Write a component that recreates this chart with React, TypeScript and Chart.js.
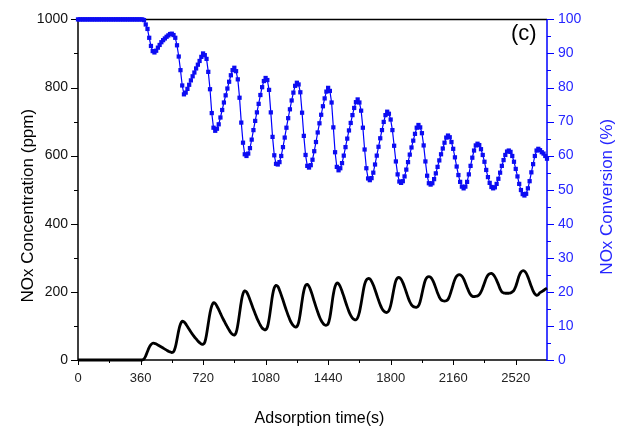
import React, { useEffect, useRef } from "react";
import { Chart, registerables } from "chart.js";

Chart.register(...registerables);

const SAMPLE_STEP_S = 10;

// NOx conversion (%) sampled every 10 s, 0 .. 2700 s (blue, right axis)
const conversionPct = [
  100, 100, 100, 100, 100, 100, 100, 100, 100, 100,
  100, 100, 100, 100, 100, 100, 100, 100, 100, 100,
  100, 100, 100, 100, 100, 100, 100, 100, 100, 100,
  100, 100, 100, 100, 100, 100, 100, 100, 99.8, 98.5,
  97.2, 94.6, 92.2, 90.7, 90.3, 90.8, 91.7, 92.5, 93.3, 93.9,
  94.4, 94.9, 95.3, 95.7, 95.8, 95.4, 94.6, 92.4, 89.1, 85.1,
  80.6, 78.0, 78.5, 79.6, 80.8, 82.1, 83.3, 84.4, 85.6, 86.7,
  87.8, 89.0, 90.0, 89.5, 88.4, 84.6, 79.5, 72.5, 68.2, 67.3,
  67.9, 69.2, 71.2, 73.4, 75.6, 77.7, 79.7, 81.7, 83.6, 85.1,
  85.8, 84.8, 82.4, 77.0, 69.7, 63.8, 60.4, 59.9, 60.6, 62.2,
  64.7, 67.5, 70.2, 72.7, 75.2, 77.8, 80.1, 81.9, 82.8, 82.2,
  79.3, 72.7, 65.5, 60.1, 57.6, 57.4, 58.1, 59.9, 62.5, 65.3,
  68.2, 71.0, 73.6, 76.2, 78.5, 80.5, 81.4, 80.9, 78.6, 72.6,
  65.8, 60.2, 57.0, 56.5, 57.2, 58.8, 61.3, 64.0, 66.8, 69.5,
  72.0, 74.5, 76.8, 78.8, 79.9, 79.0, 75.6, 68.3, 61.0, 56.7,
  55.7, 56.3, 57.8, 60.0, 62.5, 65.0, 67.4, 69.6, 71.9, 74.0,
  75.7, 76.5, 75.6, 73.2, 68.2, 61.8, 56.3, 53.3, 52.8, 53.4,
  55.0, 57.4, 60.0, 62.6, 65.1, 67.5, 69.9, 71.9, 72.9, 72.3,
  70.6, 67.5, 62.9, 58.3, 54.5, 52.4, 52.0, 52.5, 53.9, 55.9,
  58.1, 60.3, 62.4, 64.4, 66.4, 68.2, 69.0, 68.3, 66.6, 63.0,
  58.3, 54.1, 51.9, 51.5, 51.9, 53.1, 54.8, 56.7, 58.6, 60.4,
  62.1, 63.8, 65.3, 65.9, 65.4, 64.0, 62.0, 59.5, 56.8, 54.3,
  52.3, 50.9, 50.4, 50.9, 52.3, 54.5, 57.0, 59.4, 61.5, 63.0,
  63.5, 63.1, 61.9, 60.2, 58.2, 55.8, 53.7, 52.0, 50.8, 50.4,
  50.7, 51.7, 53.2, 55.0, 57.0, 58.7, 60.2, 61.2, 61.5, 61.1,
  59.9, 58.2, 56.1, 53.9, 51.7, 49.9, 48.7, 48.3, 48.8, 50.4,
  52.5, 55.1, 57.5, 59.9, 61.5, 62.0, 61.6, 61.0, 60.6, 59.9,
  59.1,
];

// NOx concentration (ppm) sampled every 10 s, 0 .. 2700 s (black, left axis)
const concentrationPpm = [
  0, 0, 0, 0, 0, 0, 0, 0, 0, 0,
  0, 0, 0, 0, 0, 0, 0, 0, 0, 0,
  0, 0, 0, 0, 0, 0, 0, 0, 0, 0,
  0, 0, 0, 0, 0, 0, 0, 0, 3, 12,
  25, 37, 45, 49, 49, 47, 44, 41, 38, 35,
  32, 29, 26, 24, 22, 24, 37, 61, 87, 106,
  114, 112, 106, 98, 90, 82, 75, 68, 62, 56,
  51, 47, 46, 52, 75, 107, 138, 159, 168, 166,
  158, 148, 137, 126, 116, 106, 97, 88, 80, 75,
  73, 80, 103, 137, 171, 195, 203, 200, 190, 177,
  163, 149, 136, 123, 112, 102, 94, 90, 89, 96,
  120, 155, 190, 212, 219, 216, 205, 191, 176, 160,
  145, 131, 118, 108, 101, 97, 98, 110, 138, 173,
  203, 219, 222, 216, 204, 189, 172, 156, 141, 127,
  116, 108, 103, 102, 106, 125, 158, 193, 216, 226,
  224, 215, 202, 187, 171, 156, 142, 131, 123, 119,
  118, 124, 140, 166, 196, 222, 235, 239, 238, 231,
  220, 206, 191, 176, 162, 151, 144, 140, 140, 145,
  160, 185, 212, 233, 241, 242, 237, 227, 214, 199,
  184, 171, 162, 157, 155, 155, 159, 172, 194, 217,
  235, 243, 245, 243, 236, 225, 211, 197, 185, 177,
  174, 173, 174, 178, 189, 205, 222, 237, 246, 250,
  250, 246, 238, 226, 213, 201, 192, 187, 186, 187,
  188, 192, 200, 212, 226, 240, 249, 253, 254, 251,
  244, 234, 222, 209, 200, 197, 196, 196, 196, 197,
  200, 205, 216, 232, 248, 258, 262, 261, 255, 244,
  230, 216, 203, 194, 190, 192, 198, 201, 204, 208,
  211,
];

const timeTickValues = [0, 360, 720, 1080, 1440, 1800, 2160, 2520];
const timeMinorTicks = [180, 540, 900, 1260, 1620, 1980, 2340];
const ppmTickValues = [0, 200, 400, 600, 800, 1000];
const ppmMinorTicks = [100, 300, 500, 700, 900];
const pctTickValues = [0, 10, 20, 30, 40, 50, 60, 70, 80, 90, 100];
const pctMinorTicks = [5, 15, 25, 35, 45, 55, 65, 75, 85, 95];

const X_TITLE = "Adsorption time(s)";
const Y_TITLE = "NOx Concentration (ppm)";
const Y1_TITLE = "NOx Conversion (%)";
const PANEL_LABEL = "(c)";

const FONT = '"Liberation Sans", Arial, sans-serif';
const BLUE = "#0000ff";
const BLUE_TEXT = "#2626ff";

const sampleTimes = conversionPct.map((_, i) => i * SAMPLE_STEP_S);
const plainLabel = (v: any) => String(v);

const decorPlugin = {
  id: "decor",
  beforeDatasetsDraw(chart: any) {
    const { ctx, chartArea: a, scales } = chart;
    const x = scales.x;
    const y = scales.y;
    const y1 = scales.y1;
    ctx.save();
    ctx.lineWidth = 1;
    ctx.strokeStyle = "#000";
    ctx.beginPath();
    ppmTickValues.forEach((v) => {
      const py = Math.round(y.getPixelForValue(v)) + 0.5;
      ctx.moveTo(a.left, py);
      ctx.lineTo(a.left - 7, py);
    });
    ppmMinorTicks.forEach((v) => {
      const py = Math.round(y.getPixelForValue(v)) + 0.5;
      ctx.moveTo(a.left, py);
      ctx.lineTo(a.left - 4, py);
    });
    timeTickValues.forEach((v) => {
      const px = Math.round(x.getPixelForValue(v)) + 0.5;
      ctx.moveTo(px, a.bottom);
      ctx.lineTo(px, a.bottom + 5);
    });
    timeMinorTicks.forEach((v) => {
      const px = Math.round(x.getPixelForValue(v)) + 0.5;
      ctx.moveTo(px, a.bottom);
      ctx.lineTo(px, a.bottom + 3);
    });
    ctx.stroke();

    ctx.strokeStyle = BLUE;
    ctx.beginPath();
    pctTickValues.forEach((v) => {
      const py = Math.round(y1.getPixelForValue(v)) + 0.5;
      ctx.moveTo(a.right, py);
      ctx.lineTo(a.right + 7, py);
    });
    pctMinorTicks.forEach((v) => {
      const py = Math.round(y1.getPixelForValue(v)) + 0.5;
      ctx.moveTo(a.right, py);
      ctx.lineTo(a.right + 4, py);
    });
    ctx.stroke();

    ctx.lineWidth = 1.5;
    ctx.strokeStyle = "#000";
    ctx.beginPath();
    ctx.moveTo(a.right, a.top);
    ctx.lineTo(a.left, a.top);
    ctx.lineTo(a.left, a.bottom);
    ctx.lineTo(a.right, a.bottom);
    ctx.stroke();
    ctx.strokeStyle = BLUE;
    ctx.beginPath();
    ctx.moveTo(a.right, a.top);
    ctx.lineTo(a.right, a.bottom + 1);
    ctx.stroke();
    ctx.restore();
  },
  afterDraw(chart: any) {
    const { ctx, chartArea: a } = chart;
    ctx.save();
    ctx.textAlign = "center";
    ctx.textBaseline = "alphabetic";

    ctx.fillStyle = "#000";
    ctx.font = `16px ${FONT}`;
    ctx.fillText(X_TITLE, (a.left + a.right) / 2 + 7, 423);

    ctx.font = `17px ${FONT}`;
    ctx.save();
    ctx.translate(32.5, (a.top + a.bottom) / 2 + 16);
    ctx.rotate(-Math.PI / 2);
    ctx.fillText(Y_TITLE, 0, 0);
    ctx.restore();

    ctx.fillStyle = BLUE_TEXT;
    ctx.save();
    ctx.translate(612, (a.top + a.bottom) / 2 + 7);
    ctx.rotate(-Math.PI / 2);
    ctx.fillText(Y1_TITLE, 0, 0);
    ctx.restore();

    ctx.fillStyle = "#000";
    ctx.font = `22px ${FONT}`;
    ctx.textAlign = "left";
    ctx.fillText(PANEL_LABEL, a.right - 36, a.top + 21);
    ctx.restore();
  },
};

export default function App() {
  const canvasRef = useRef<HTMLCanvasElement | null>(null);

  useEffect(() => {
    document.body.style.margin = "0";
    const canvas = canvasRef.current;
    if (!canvas) return;

    const chart = new Chart(canvas, {
      type: "line",
      data: {
        datasets: [
          {
            label: Y1_TITLE,
            data: sampleTimes.map((t, i) => ({ x: t, y: conversionPct[i] })),
            yAxisID: "y1",
            borderColor: BLUE,
            backgroundColor: BLUE,
            borderWidth: 1.2,
            pointStyle: "rect",
            pointRadius: 3,
            pointBorderWidth: 0,
            pointBackgroundColor: "#0c0cf2",
            tension: 0,
            clip: false,
          } as any,
          {
            label: Y_TITLE,
            data: sampleTimes.map((t, i) => ({ x: t, y: concentrationPpm[i] })),
            yAxisID: "y",
            borderColor: "#000",
            borderWidth: 2.8,
            pointRadius: 0,
            tension: 0.4,
            clip: false,
          } as any,
        ],
      },
      options: {
        animation: false,
        responsive: false,
        devicePixelRatio: 1,
        layout: { padding: { top: 16, left: 0, right: 0, bottom: 0 } },
        plugins: {
          legend: { display: false },
          tooltip: { enabled: false },
        },
        scales: {
          x: {
            type: "linear",
            min: 0,
            max: 2700,
            afterBuildTicks: (s: any) => {
              s.ticks = timeTickValues.map((v) => ({ value: v }));
            },
            afterFit: (s: any) => {
              s.height = 74;
            },
            grid: { display: false, drawTicks: false },
            border: { display: false },
            ticks: {
              font: { family: FONT, size: 13 },
              color: "#222",
              padding: 11,
              maxRotation: 0,
              autoSkip: false,
              callback: plainLabel,
            },
          },
          y: {
            type: "linear",
            position: "left",
            min: 0,
            max: 1000,
            afterBuildTicks: (s: any) => {
              s.ticks = ppmTickValues.map((v) => ({ value: v }));
            },
            afterFit: (s: any) => {
              s.width = 78;
            },
            grid: { display: false, drawTicks: false },
            border: { display: false },
            ticks: {
              font: { family: FONT, size: 14 },
              color: "#111",
              padding: 10,
              callback: plainLabel,
            },
          },
          y1: {
            type: "linear",
            position: "right",
            min: 0,
            max: 100,
            afterBuildTicks: (s: any) => {
              s.ticks = pctTickValues.map((v) => ({ value: v }));
            },
            afterFit: (s: any) => {
              s.width = 73;
            },
            grid: { display: false, drawTicks: false },
            border: { display: false },
            ticks: {
              font: { family: FONT, size: 14 },
              color: BLUE_TEXT,
              padding: 11,
              callback: plainLabel,
            },
          },
        },
      },
      plugins: [decorPlugin],
    });

    return () => {
      chart.destroy();
    };
  }, []);

  return (
    <div style={{ width: 620, height: 434, background: "#fff" }}>
      <canvas ref={canvasRef} width={620} height={434} style={{ display: "block" }} />
    </div>
  );
}
